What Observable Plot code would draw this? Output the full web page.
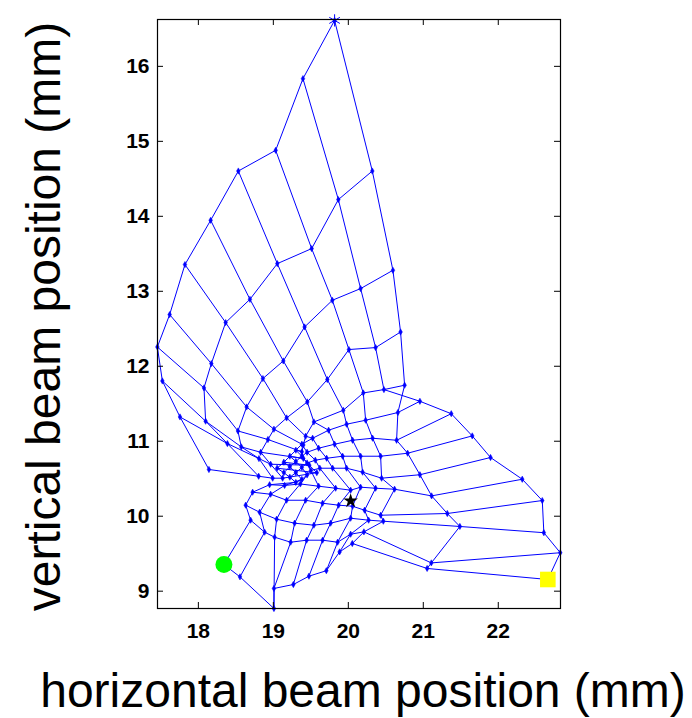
<!DOCTYPE html>
<html><head><meta charset="utf-8">
<script src="https://cdn.jsdelivr.net/npm/d3@7"></script>
<script src="https://cdn.jsdelivr.net/npm/@observablehq/plot@0.6"></script>
<style>
html,body{margin:0;padding:0;background:#fff;}
#chart{width:692px;height:718px;}
svg{display:block;}
</style></head><body><div id="chart"></div>
<script>
// axis ticks
const xTicks = [18, 19, 20, 21, 22];
const yTicks = [9, 10, 11, 12, 13, 14, 15, 16];
const xTitle = "horizontal beam position (mm)";
const yTitle = "vertical beam position (mm)";

// scan grid: one array per scan row, points [x, y] in mm, columns c0..c10
const r0 = [[19.817,16.613],[19.395,15.836],[19.031,14.880],[18.533,14.604],[18.164,13.947],[17.821,13.356],[17.617,12.689],[17.453,12.257],[17.520,11.804],[17.755,11.324],[18.141,10.623]];
const r1 = [[20.320,14.604],[19.867,14.223],[19.511,13.569],[19.053,13.369],[18.688,12.893],[18.364,12.583],[18.173,12.036],[18.075,11.711],[18.097,11.267],[18.387,10.969],[18.804,10.533]];
const r2 = [[20.595,13.280],[20.164,13.036],[19.787,12.880],[19.417,12.524],[19.133,12.071],[18.861,11.836],[18.644,11.457],[18.528,11.137],[18.573,10.924],[18.808,10.769],[18.991,10.507]];
const r3 = [[20.697,12.457],[20.364,12.249],[20.008,12.223],[19.720,11.823],[19.453,11.524],[19.177,11.311],[19.008,11.160],[18.928,11.023],[18.831,10.853],[18.964,10.693],[19.124,10.507]];
const r4 = [[20.751,11.747],[20.475,11.689],[20.200,11.644],[19.933,11.413],[19.541,11.257],[19.431,11.067],[19.400,10.950],[19.380,10.860],[19.400,10.770],[19.480,10.680],[19.580,10.580]];
const r5 = [[20.661,11.383],[20.955,11.533],[20.231,11.280],[19.977,11.227],[19.737,11.147],[19.524,11.040],[19.380,10.960],[19.300,10.880],[19.220,10.800],[19.140,10.720],[19.050,10.640]];
const r6 = [[20.644,11.013],[21.373,11.367],[20.324,11.040],[20.057,11.013],[19.817,10.960],[19.604,10.907],[19.450,10.853],[19.380,10.800],[19.300,10.730],[19.220,10.660],[19.140,10.580]];
const r7 = [[20.791,10.840],[21.653,11.071],[20.431,10.800],[20.164,10.800],[19.924,10.800],[19.711,10.773],[19.560,10.747],[19.450,10.710],[19.380,10.650],[19.300,10.580],[19.220,10.520]];
const r8 = [[20.955,10.553],[21.897,10.783],[20.444,10.507],[20.191,10.587],[19.977,10.640],[19.791,10.640],[19.620,10.640],[19.500,10.610],[19.450,10.550],[19.380,10.490],[19.300,10.450]];
const r9 = [[21.111,10.271],[22.320,10.493],[20.617,10.360],[20.364,10.373],[20.164,10.387],[20.031,10.347],[19.831,10.373],[19.604,10.400],[19.360,10.430],[19.150,10.410],[18.950,10.420]];
const r10 = [[21.320,10.036],[22.587,10.209],[20.431,10.013],[20.217,10.080],[20.057,10.133],[19.871,10.147],[19.657,10.173],[19.431,10.213],[19.177,10.213],[18.964,10.293],[18.724,10.320]];
const r11 = [[21.488,9.863],[22.608,9.780],[20.467,9.933],[20.271,9.947],[20.031,9.973],[19.764,9.907],[19.541,9.880],[19.284,9.907],[19.044,9.960],[18.817,10.053],[18.631,10.147]];
const r12 = [[21.107,9.377],[22.827,9.513],[20.208,9.791],[20.031,9.760],[19.857,9.653],[19.657,9.680],[19.444,9.680],[19.231,9.653],[19.017,9.720],[18.884,9.787],[18.697,9.947]];
const r13 = [[21.051,9.303],[22.661,9.156],[20.053,9.636],[19.884,9.524],[19.707,9.273],[19.475,9.200],[19.267,9.089],[19.008,9.036],[19.008,8.769],[18.555,9.191],[18.341,9.356]];

// special markers
const startPoint = [19.817, 16.613];   // blue asterisk
const greenPoint = [18.341, 9.356];    // green circle
const yellowPoint = [22.661, 9.156];   // yellow square
const targetPoint = [20.031, 10.204];  // black star

const meshRows = [r0, r1, r2, r3, r4, r5, r6, r7, r8, r9, r10, r11, r12, r13];
const foldRow = 5; // from this row on, column 1 lies outside column 0

const nCols = r0.length;
const lineData = [];
meshRows.forEach((row, i) => {
  const order = i < foldRow ? d3.range(nCols) : [1, 0, ...d3.range(2, nCols)];
  order.forEach(j => lineData.push({id: "row" + i, x: row[j][0], y: row[j][1]}));
});
for (let j = 0; j < nCols; j++) {
  meshRows.forEach(row => lineData.push({id: "col" + j, x: row[j][0], y: row[j][1]}));
}
const nodes = meshRows.flat().map(([x, y]) => ({x, y}));

const blue = "#0000ff";
const chart = Plot.plot({
  width: 692,
  height: 718,
  marginLeft: 157,
  marginRight: 132,
  marginTop: 19,
  marginBottom: 110,
  style: {fontFamily: "'Liberation Sans', Arial, sans-serif", color: "#000", background: "#fff"},
  x: {domain: [17.455, 22.83]},
  y: {domain: [8.769, 16.625]},
  marks: [
    Plot.line(lineData, {x: "x", y: "y", z: "id", stroke: blue, strokeWidth: 1, curve: "linear"}),
    Plot.dot(nodes, {x: "x", y: "y", symbol: "diamond", r: 1.9, fill: blue, stroke: blue, strokeWidth: 0.5}),
    Plot.dot([startPoint], {x: d => d[0], y: d => d[1], symbol: "asterisk", r: 5.8, stroke: blue, strokeWidth: 1}),
    Plot.dot([greenPoint], {x: d => d[0], y: d => d[1], symbol: "circle", r: 8.5, fill: "#00ff00", stroke: "none"}),
    Plot.dot([yellowPoint], {x: d => d[0], y: d => d[1], symbol: "square", r: 8.8, fill: "#ffff00", stroke: "none"}),
    Plot.dot([targetPoint], {x: d => d[0], y: d => d[1], symbol: "star", r: 4.6, fill: "#000", stroke: "none"}),
    Plot.frame({stroke: "#000", strokeWidth: 1.2}),
    Plot.ruleX(xTicks, {x: d => d, insetTop: 583, stroke: "#000"}),
    Plot.ruleX(xTicks, {x: d => d, insetBottom: 583, stroke: "#000"}),
    Plot.ruleY(yTicks, {y: d => d, insetRight: 397, stroke: "#000"}),
    Plot.ruleY(yTicks, {y: d => d, insetLeft: 397, stroke: "#000"}),
    Plot.axisX(xTicks, {tickSize: 0, tickPadding: 15, fontSize: 21, fontWeight: "bold", tickFormat: "d", label: null}),
    Plot.axisY(yTicks, {tickSize: 0, tickPadding: 8, fontSize: 21, fontWeight: "bold", tickFormat: "d", label: null}),
    Plot.text([xTitle], {text: d => d, frameAnchor: "bottom", textAnchor: "middle", lineAnchor: "middle", dx: 4, dy: 83, fontSize: 48, fill: "#000"}),
    Plot.text([yTitle], {text: d => d, frameAnchor: "left", textAnchor: "middle", lineAnchor: "middle", rotate: -90, dx: -113, dy: 2.5, fontSize: 48, fill: "#000"})
  ]
});
document.getElementById("chart").appendChild(chart);
</script>
</body></html>
